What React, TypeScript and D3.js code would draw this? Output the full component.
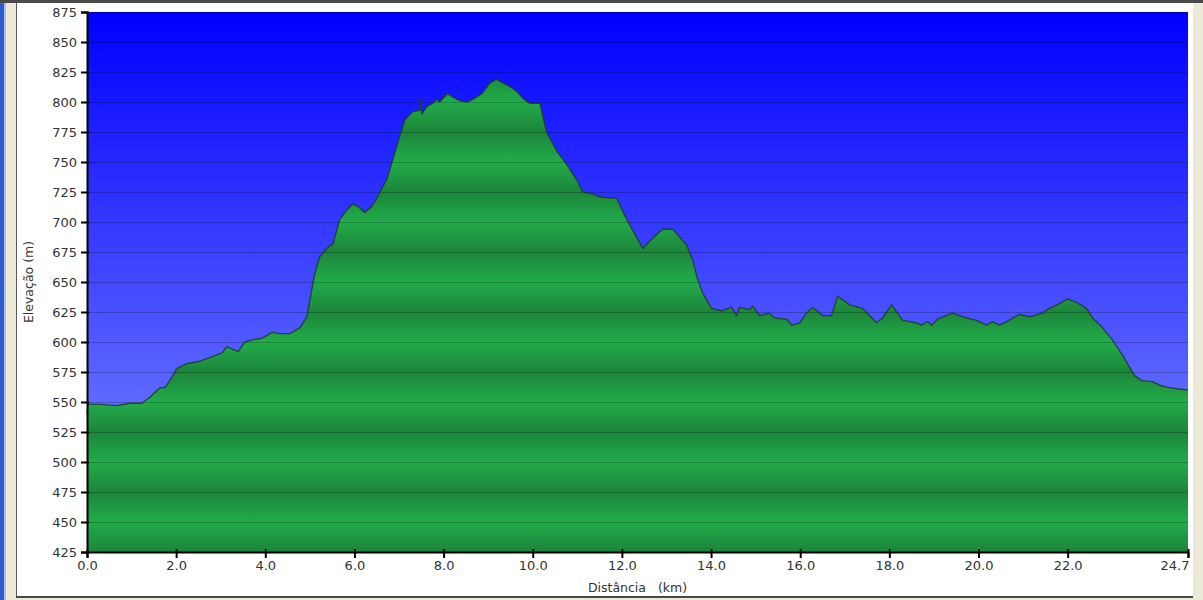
import React, { useRef, useEffect } from 'react';
import * as d3 from 'd3';

// elevation profile (km, m)
const distKm = [
  0.0, 0.02, 0.29, 0.67, 0.96, 1.23, 1.41, 1.64, 1.75, 1.86, 2.02, 2.24, 2.53, 2.83, 3.03, 3.14,
  3.39, 3.54, 3.72, 3.92, 4.15, 4.33, 4.55, 4.78, 4.93, 5.0, 5.11, 5.22, 5.38, 5.52, 5.67, 5.83,
  5.96, 6.08, 6.23, 6.39, 6.52, 6.73, 6.86, 7.02, 7.13, 7.31, 7.47, 7.49, 7.51, 7.62, 7.76, 7.85,
  7.91, 8.09, 8.21, 8.36, 8.52, 8.65, 8.86, 9.04, 9.19, 9.33, 9.48, 9.64, 9.78, 9.93, 10.16, 10.31,
  10.54, 10.76, 10.99, 11.12, 11.28, 11.5, 11.77, 11.88, 12.11, 12.47, 12.62, 12.91, 13.14, 13.45,
  13.59, 13.7, 13.81, 14.01, 14.24, 14.46, 14.57, 14.64, 14.87, 14.93, 15.09, 15.31, 15.43, 15.7,
  15.81, 15.99, 16.14, 16.28, 16.5, 16.7, 16.84, 17.11, 17.4, 17.71, 17.85, 18.05, 18.3, 18.61,
  18.72, 18.86, 18.95, 19.08, 19.42, 19.73, 19.96, 20.18, 20.31, 20.47, 20.63, 20.92, 21.14, 21.43,
  21.59, 21.82, 22.0, 22.2, 22.42, 22.56, 22.78, 23.0, 23.23, 23.5, 23.65, 23.9, 24.06, 24.28,
  24.46, 24.7,
];

const elevM = [
  540, 548, 548, 547, 549, 549, 554, 562, 562, 568, 578, 582, 584, 588, 591, 596,
  592, 600, 602, 603, 608, 607, 607, 612, 621, 635, 657, 671, 678, 682, 702, 710,
  715, 713, 708, 713, 721, 736, 752, 772, 785, 792, 793, 803, 790, 796, 799, 802,
  800, 807, 804, 801, 800, 802, 807, 816, 819, 816, 813, 809, 803, 799, 799, 775,
  759, 748, 735, 725, 724, 721, 720, 720, 702, 678, 684, 694, 694, 681,
  668, 652, 641, 628, 626, 629, 622, 629, 627, 630, 622, 624, 620, 619,
  614, 616, 624, 629, 622, 622, 638, 631, 628, 616, 620, 631, 618, 616,
  614, 617, 614, 619, 624, 620, 618, 614, 617, 614, 617, 623, 621, 624,
  628, 632, 636, 633, 628, 620, 612, 602, 589, 572, 568, 567, 564, 562,
  561, 560,
];

const xTicks = [0, 2, 4, 6, 8, 10, 12, 14, 16, 18, 20, 22, 24.7];
const yTicks = d3.range(425, 876, 25);

const xTitle = 'Distância   (km)';
const yTitle = 'Elevação (m)';

const W = 1203;
const H = 600;
const margin = { left: 87, right: 15, top: 12, bottom: 48 };

const App: React.FC = () => {
  const svgRef = useRef<SVGSVGElement>(null);

  useEffect(() => {
    if (!svgRef.current) return;
    const svg = d3.select(svgRef.current);
    svg.selectAll('*').remove();

    const x = d3.scaleLinear().domain([0, 24.7]).range([margin.left, W - margin.right]);
    const y = d3.scaleLinear().domain([425, 875]).range([H - margin.bottom, margin.top]);
    const pts = distKm.map((d, i) => [d, elevM[i]] as [number, number]);

    const defs = svg.append('defs');
    const sky = defs.append('linearGradient')
      .attr('id', 'sky').attr('x1', 0).attr('x2', 0).attr('y1', 0).attr('y2', 1);
    sky.append('stop').attr('offset', '0%').attr('stop-color', '#0000ff');
    sky.append('stop').attr('offset', '100%').attr('stop-color', '#8491ff');

    // green bands: light at multiples of 50 m, dark in between
    const band = defs.append('linearGradient')
      .attr('id', 'band').attr('gradientUnits', 'userSpaceOnUse')
      .attr('x1', 0).attr('x2', 0).attr('y1', y(525)).attr('y2', y(500))
      .attr('spreadMethod', 'reflect');
    band.append('stop').attr('offset', '0%').attr('stop-color', '#1c853a');
    band.append('stop').attr('offset', '100%').attr('stop-color', '#22ac4b');

    // window frame
    svg.append('rect').attr('width', W).attr('height', H).attr('fill', '#ffffff');
    svg.append('rect').attr('x', 0).attr('y', 0).attr('width', 4).attr('height', H).attr('fill', '#2d5ccd');
    svg.append('rect').attr('x', 4).attr('y', 0).attr('width', 2).attr('height', H).attr('fill', '#a9bff0');
    svg.append('rect').attr('x', 6).attr('y', 0).attr('width', 10).attr('height', H).attr('fill', '#ece9d8');
    svg.append('rect').attr('x', 16).attr('y', 0).attr('width', 1).attr('height', H).attr('fill', '#5a5a5a');
    svg.append('rect').attr('x', 1193).attr('y', 0).attr('width', 10).attr('height', H).attr('fill', '#ece9d8');
    svg.append('rect').attr('x', 0).attr('y', 0).attr('width', W).attr('height', 3).attr('fill', '#4a4a4a');
    svg.append('rect').attr('x', 16).attr('y', 596).attr('width', 1177).attr('height', 2).attr('fill', '#4a4a4a');
    svg.append('rect').attr('x', 16).attr('y', 598).attr('width', 1177).attr('height', 2).attr('fill', '#ece9d8');

    // plot background
    svg.append('rect')
      .attr('x', x(0)).attr('y', y(875))
      .attr('width', x(24.7) - x(0)).attr('height', y(425) - y(875))
      .attr('fill', 'url(#sky)');

    const area = d3.area<[number, number]>()
      .x(d => x(d[0])).y0(y(425)).y1(d => y(d[1]));
    const line = d3.line<[number, number]>()
      .x(d => x(d[0])).y(d => y(d[1]));

    svg.append('path').datum(pts).attr('d', area).attr('fill', 'url(#band)');

    // grid
    svg.append('g').selectAll('line').data(yTicks.slice(1)).join('line')
      .attr('x1', x(0)).attr('x2', x(24.7))
      .attr('y1', d => y(d) + 0.5).attr('y2', d => y(d) + 0.5)
      .attr('stroke', '#000').attr('stroke-opacity', 0.22).attr('stroke-width', 1);

    svg.append('path').datum(pts).attr('d', line)
      .attr('fill', 'none').attr('stroke', '#1d3d28').attr('stroke-opacity', 0.85)
      .attr('stroke-width', 1.4).attr('stroke-linejoin', 'round');

    // axes
    const yAxis = svg.append('g').attr('transform', `translate(${x(0)},0)`)
      .call(d3.axisLeft(y).tickValues(yTicks).tickSize(6).tickPadding(4).tickFormat(d3.format('d')));
    const xAxis = svg.append('g').attr('transform', `translate(0,${y(425)})`)
      .call(d3.axisBottom(x).tickValues(xTicks).tickSize(6).tickPadding(3).tickFormat(d3.format('.1f')));
    [yAxis, xAxis].forEach(g => {
      g.select('.domain').attr('stroke', '#000').attr('stroke-width', 2);
      g.selectAll('.tick line').attr('stroke', '#000').attr('stroke-width', 2);
      g.selectAll('text').attr('fill', '#333').attr('font-size', 13).attr('font-family', 'DejaVu Sans, Verdana, sans-serif');
    });
    xAxis.selectAll('.tick line').attr('y1', -3);
    yAxis.selectAll('.tick line').attr('x1', 2);
    // last label sits left of its tick
    xAxis.selectAll<SVGTextElement, number>('.tick text')
      .filter(d => d === 24.7).attr('text-anchor', 'end').attr('dx', 1);

    svg.append('text')
      .attr('x', (x(0) + x(24.7)) / 2).attr('y', 592)
      .attr('text-anchor', 'middle').attr('font-size', 12.5).attr('fill', '#333')
      .attr('font-family', 'DejaVu Sans, Verdana, sans-serif')
      .attr('xml:space', 'preserve').style('white-space', 'pre')
      .text(xTitle);

    svg.append('text')
      .attr('transform', `translate(33,${(y(425) + y(875)) / 2}) rotate(-90)`)
      .attr('text-anchor', 'middle').attr('font-size', 12.5).attr('fill', '#333')
      .attr('font-family', 'DejaVu Sans, Verdana, sans-serif')
      .text(yTitle);
  }, []);

  return (
    <svg ref={svgRef} width={W} height={H}
      style={{ position: 'fixed', left: 0, top: 0, display: 'block' }} />
  );
};

export default App;
